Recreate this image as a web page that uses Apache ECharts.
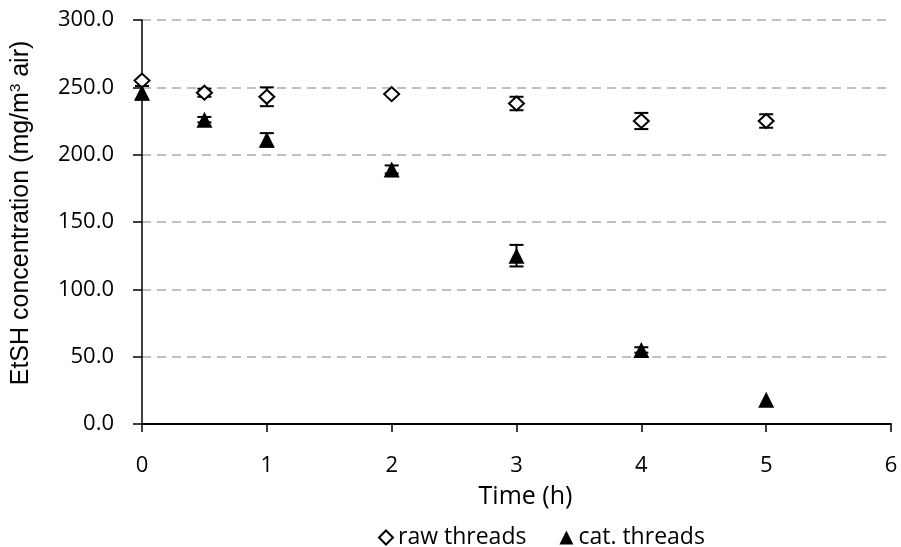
<!DOCTYPE html>
<html>
<head>
<meta charset="utf-8">
<script src="https://cdn.jsdelivr.net/npm/echarts@6/dist/echarts.min.js"></script>
<style>
  html, body { margin: 0; padding: 0; background: #fff; }
  #chart { width: 901px; height: 547px; }
</style>
</head>
<body>
<div id="chart"></div>
<script>
// ---------------------------------------------------------------------------
// data
// ---------------------------------------------------------------------------
const TIMES = [0, 0.5, 1, 2, 3, 4, 5];
const RAW_MEAN = [255, 246, 243, 245, 238, 225, 225];
const RAW_ERR = [0, 3, 7, 0, 5, 6, 5];
const CAT_MEAN = [246, 226, 211, 189, 125, 55, 18];
const CAT_ERR = [5, 2, 5, 3, 8, 2, 0];

const TICK_FONT = "'Open Sans', sans-serif";
const TITLE_FONT = "'Liberation Sans', Arial, sans-serif";

// [x, low, high] rows for the error bars
function errRows(mean, err) {
  return TIMES.map((t, i) => [t, mean[i] - err[i], mean[i] + err[i]]);
}

function renderErr(params, api) {
  const x = api.value(0);
  const lo = api.coord([x, api.value(1)]);
  const hi = api.coord([x, api.value(2)]);
  if (Math.abs(lo[1] - hi[1]) < 1) return null;
  const cap = 7;
  const style = { stroke: "#000", lineWidth: 2 };
  return {
    type: "group",
    children: [
      { type: "line", shape: { x1: lo[0], y1: lo[1], x2: hi[0], y2: hi[1] }, style },
      { type: "line", shape: { x1: lo[0] - cap, y1: lo[1], x2: lo[0] + cap, y2: lo[1] }, style },
      { type: "line", shape: { x1: hi[0] - cap, y1: hi[1], x2: hi[0] + cap, y2: hi[1] }, style },
    ],
  };
}

const chart = echarts.init(document.getElementById("chart"));

chart.setOption({
  backgroundColor: "#fff",
  animation: false,
  grid: { left: 142, right: 10, top: 20, bottom: 123 },
  legend: {
    top: 521,
    left: 373,
    itemGap: 33,
    itemWidth: 14,
    itemHeight: 14,
    textStyle: { fontFamily: TICK_FONT, fontSize: 23, color: "#000" },
    data: [
      { name: "raw threads", icon: "diamond" },
      { name: "cat. threads", icon: "triangle" },
    ],
  },
  xAxis: {
    type: "value",
    min: 0,
    max: 6,
    interval: 1,
    name: "Time (h)",
    nameLocation: "middle",
    nameGap: 60,
    nameTextStyle: { fontFamily: TICK_FONT, fontSize: 25, color: "#000", padding: [0, 0, 0, 18] },
    axisLine: { show: true, onZero: false, lineStyle: { color: "#000", width: 2 } },
    axisTick: { show: true, length: 8, lineStyle: { color: "#000", width: 1.5 } },
    axisLabel: { fontFamily: TICK_FONT, fontSize: 22, color: "#000", margin: 31 },
    splitLine: { show: false },
  },
  yAxis: {
    type: "value",
    min: 0,
    max: 300,
    interval: 50,
    name: "{a|EtSH concentration (mg/m}{s|3}{a| air)}",
    nameLocation: "middle",
    nameGap: 107,
    nameTextStyle: {
      padding: [0, 0, 0, 18],
      rich: {
        a: { fontFamily: TITLE_FONT, fontSize: 25, color: "#000" },
        s: { fontFamily: TITLE_FONT, fontSize: 15, color: "#000", verticalAlign: "top", padding: [0, 0, 12, 0] },
      },
    },
    axisLine: { show: true, onZero: false, lineStyle: { color: "#000", width: 1.5 } },
    axisTick: { show: true, length: 9, lineStyle: { color: "#000", width: 1.5 } },
    axisLabel: {
      fontFamily: TICK_FONT,
      fontSize: 22,
      color: "#000",
      margin: 28,
      formatter: (v) => v.toFixed(1),
    },
    splitLine: {
      show: true,
      lineStyle: { color: "#c0c0c0", width: 2, type: [9, 6] },
    },
  },
  series: [
    {
      name: "raw threads",
      type: "scatter",
      symbol: "diamond",
      symbolSize: [15, 14],
      itemStyle: { color: "#fff", borderColor: "#000", borderWidth: 2, opacity: 1 },
      data: TIMES.map((t, i) => [t, RAW_MEAN[i]]),
      z: 3,
    },
    {
      name: "cat. threads",
      type: "scatter",
      symbol: "triangle",
      symbolSize: 16,
      itemStyle: { color: "#000", opacity: 1 },
      data: TIMES.map((t, i) => [t, CAT_MEAN[i]]),
      z: 3,
    },
    {
      type: "custom",
      renderItem: renderErr,
      encode: { x: 0, y: [1, 2] },
      data: errRows(RAW_MEAN, RAW_ERR),
      z: 2,
    },
    {
      type: "custom",
      renderItem: renderErr,
      encode: { x: 0, y: [1, 2] },
      data: errRows(CAT_MEAN, CAT_ERR),
      z: 2,
    },
  ],
});
</script>
</body>
</html>
